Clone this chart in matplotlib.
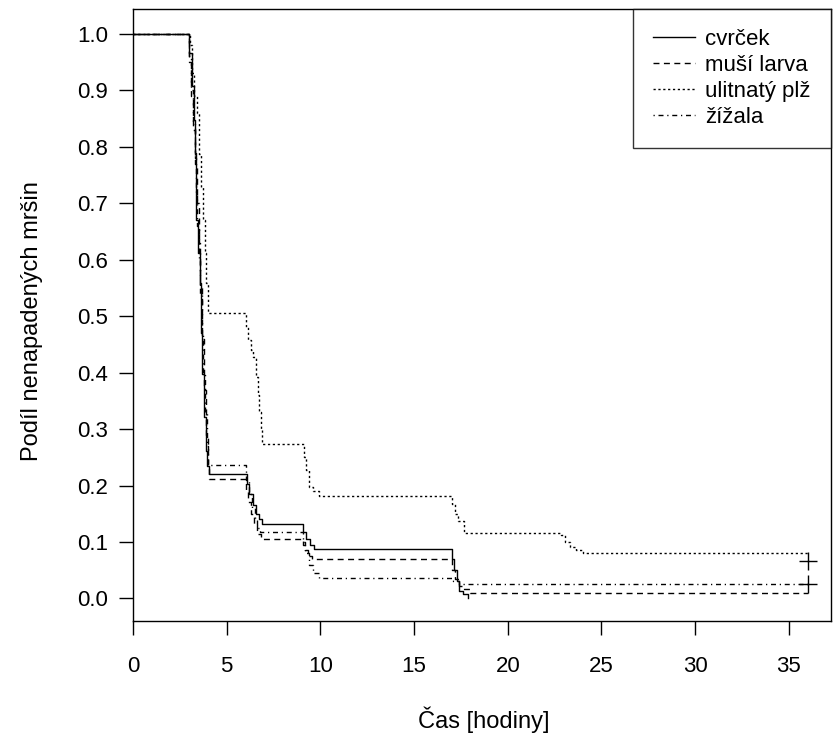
import matplotlib.pyplot as plt
import numpy as np

plt.rcParams['font.family'] = ['Liberation Sans', 'DejaVu Sans']

# odhad Kaplan-Meierovych krivek (cas v hodinach, podil nenapadenych)
skupiny = ['cvrček', 'muší larva', 'ulitnatý plž', 'žížala']

cas_cvrcek = [0, 3.00, 3.14, 3.24, 3.31, 3.35, 3.38, 3.46, 3.56, 3.62, 3.70, 3.79, 3.89, 3.97, 4.03,
              6.06, 6.20, 6.38, 6.56, 6.73, 6.91, 9.05, 9.25, 9.45, 9.67,
              17.03, 17.15, 17.27, 17.39, 17.60, 17.87]
podil_cvrcek = [1.0, 0.966, 0.907, 0.848, 0.789, 0.729, 0.670, 0.612, 0.558, 0.470, 0.398, 0.321, 0.262, 0.235, 0.220,
                0.203, 0.185, 0.165, 0.150, 0.140, 0.131, 0.118, 0.105, 0.095, 0.087,
                0.070, 0.050, 0.030, 0.014, 0.008, 0.0]

cas_larva = [0, 3.00, 3.10, 3.20, 3.30, 3.40, 3.50, 3.60, 3.70, 3.80, 3.90, 4.00, 4.06,
             6.02, 6.15, 6.30, 6.45, 6.60, 6.82, 9.05, 9.20, 9.35, 9.55,
             17.00, 17.20, 17.40, 17.60, 17.96, 36.0]
podil_larva = [1.0, 0.950, 0.890, 0.830, 0.770, 0.700, 0.630, 0.550, 0.460, 0.370, 0.290, 0.230, 0.211,
               0.190, 0.170, 0.150, 0.130, 0.115, 0.105, 0.095, 0.085, 0.076, 0.069,
               0.050, 0.035, 0.022, 0.016, 0.010, 0.010]

cas_plz = [0, 3.05, 3.15, 3.28, 3.40, 3.53, 3.63, 3.74, 3.85, 3.92, 4.02,
           6.02, 6.15, 6.29, 6.38, 6.56, 6.65, 6.74, 6.83, 6.91,
           9.14, 9.23, 9.41, 9.58, 9.94, 17.03, 17.16, 17.33, 17.69,
           22.86, 23.04, 23.30, 23.66, 24.01, 36.0]
podil_plz = [1.0, 0.980, 0.930, 0.890, 0.859, 0.788, 0.729, 0.670, 0.611, 0.558, 0.505,
             0.480, 0.457, 0.440, 0.428, 0.392, 0.360, 0.330, 0.300, 0.273,
             0.2505, 0.227, 0.197, 0.190, 0.181, 0.168, 0.150, 0.138, 0.1165,
             0.112, 0.100, 0.091, 0.086, 0.080, 0.080]

cas_zizala = [0, 3.00, 3.12, 3.22, 3.30, 3.36, 3.42, 3.50, 3.58, 3.66, 3.75, 3.84, 3.93, 4.00,
              6.05, 6.20, 6.35, 6.50, 6.62, 6.75, 9.05, 9.20, 9.40, 9.60, 9.94,
              17.07, 17.39, 36.0]
podil_zizala = [1.0, 0.960, 0.900, 0.840, 0.780, 0.720, 0.660, 0.600, 0.540, 0.470, 0.400, 0.330, 0.270, 0.237,
                0.210, 0.185, 0.160, 0.140, 0.125, 0.118, 0.100, 0.080, 0.060, 0.045, 0.036,
                0.030, 0.025, 0.025]

# cenzorovana pozorovani (+)
cenz_cas = [36.0, 36.0]
cenz_podil = [0.066, 0.025]

x_ticks = [0, 5, 10, 15, 20, 25, 30, 35]
y_ticks = [0.0, 0.1, 0.2, 0.3, 0.4, 0.5, 0.6, 0.7, 0.8, 0.9, 1.0]

styly = ['-', (0, (4.3, 3.2)), (0, (1.6, 1.9)), (0, (0.9, 2.7, 3.6, 2.7))]

fig = plt.figure(figsize=(8.34, 7.44), dpi=100)
ax = fig.add_axes([0.1595, 0.1653, 0.8369, 0.8226])

data = [(cas_cvrcek, podil_cvrcek), (cas_larva, podil_larva),
        (cas_plz, podil_plz), (cas_zizala, podil_zizala)]
car = []
for (t, s), ls, nazev in zip(data, styly, skupiny):
    l, = ax.step(t, s, where='post', color='black', lw=1.0, linestyle=ls, label=nazev)
    car.append(l)

ax.plot(cenz_cas, cenz_podil, linestyle='none', marker='+', color='black',
        markersize=13, markeredgewidth=1.0)

ax.set_xlim(0, 37.25)
ax.set_ylim(-0.04, 1.044)
ax.set_xticks(x_ticks)
ax.set_xticklabels([str(v) for v in x_ticks])
ax.set_yticks(y_ticks)
ax.set_yticklabels(['%.1f' % v for v in y_ticks])
ax.tick_params(direction='out', length=10, width=1.0, labelsize=16, colors='black')
ax.tick_params(axis='x', pad=15)
ax.tick_params(axis='y', pad=8)
for sp in ax.spines.values():
    sp.set_linewidth(1.0)
    sp.set_color('black')

ax.set_xlabel('Čas [hodiny]', fontsize=17)
ax.set_ylabel('Podíl nenapadených mršin', fontsize=17)
ax.xaxis.label.set_va('center')
ax.yaxis.label.set_va('center')
ax.xaxis.set_label_coords(0.503, -0.162)
ax.yaxis.set_label_coords(-0.145, 0.49)

leg = ax.legend(handles=car, loc='upper right', fontsize=16, frameon=True,
                fancybox=False, borderaxespad=0, handlelength=1.9, handletextpad=0.45,
                labelspacing=0.22, borderpad=0.9)
leg.get_frame().set_edgecolor('black')
leg.get_frame().set_linewidth(1.0)

plt.savefig('out.png', dpi=100)
